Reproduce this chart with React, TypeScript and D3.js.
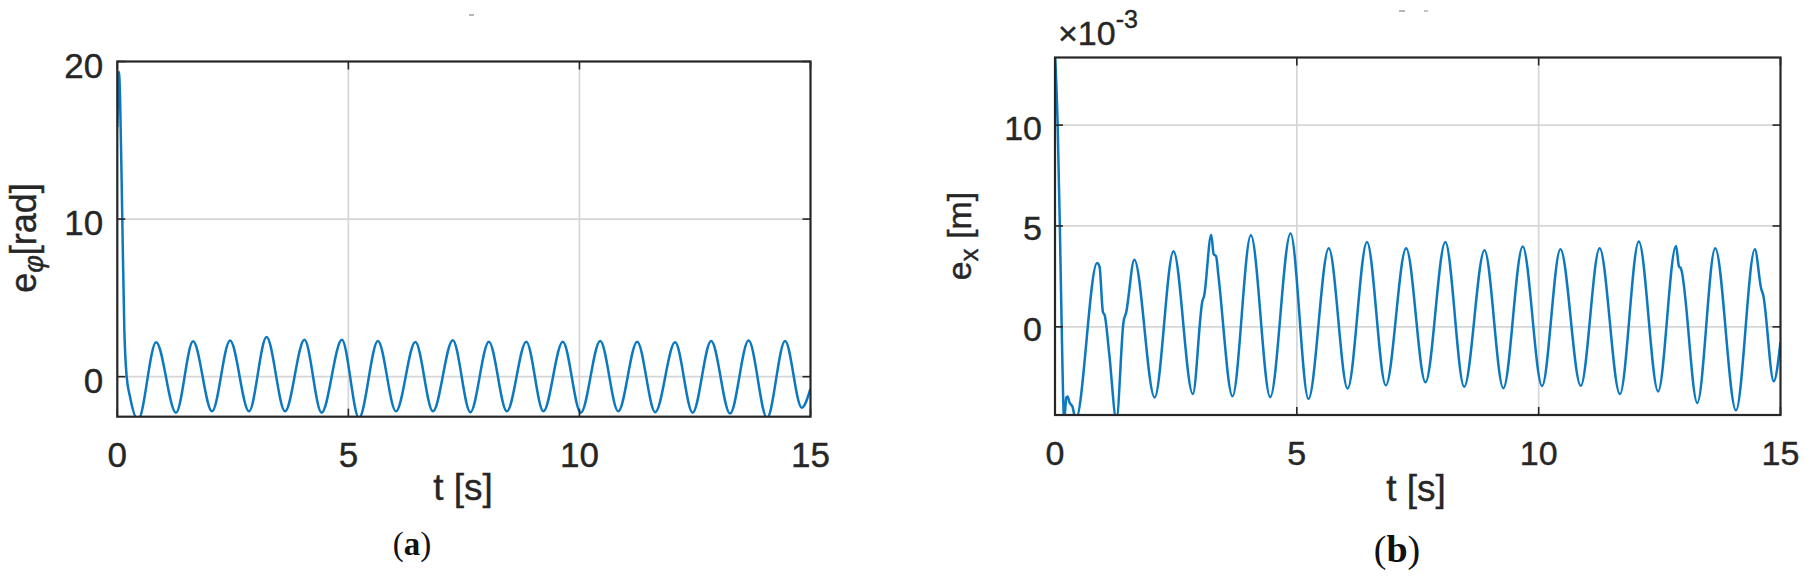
import React from "react";
import * as d3 from "d3";

// ---------- data ----------
const xTicks = [0, 5, 10, 15];
const yTicksA = [0, 10, 20];
const yTicksB = [0, 5, 10];

// panel (a): e_phi [rad]
const tA = [
  0, 0.036, 0.06, 0.108, 0.152, 0.203, 0.275, 0.45,
  0.84, 1.27, 1.64, 2.05, 2.44, 2.85, 3.23, 3.63, 4.05, 4.42, 4.86, 5.23,
  5.64, 6.03, 6.45, 6.83, 7.26, 7.64, 8.04, 8.43, 8.85, 9.22, 9.64, 10.03,
  10.45, 10.84, 11.25, 11.64, 12.07, 12.45, 12.85, 13.26, 13.66, 14.06,
  14.45, 14.81, 15,
];
const eA = [
  15.85, 19.35, 17.7, 10, 3, 0, -1.27, -2.75,
  2.18, -2.29, 2.25, -2.2, 2.29, -2.2, 2.52, -2.2, 2.34, -2.29, 2.34, -2.62,
  2.27, -2.2, 2.2, -2.2, 2.31, -2.25, 2.22, -2.2, 2.22, -2.2, 2.22, -2.29,
  2.27, -2.2, 2.22, -2.25, 2.18, -2.29, 2.27, -2.34, 2.29, -2.62,
  2.27, -1.97, -0.76,
];

// panel (b): e_x [m] (x 1e-3)
const tB = [
  0, 0.055, 0.1, 0.138, 0.19, 0.235, 0.26, 0.3, 0.36, 0.43,
  0.87, 0.92, 0.99, 1.03, 1.12, 1.27,
  1.42, 1.47, 1.64, 2.06, 2.45, 2.85, 3.05, 3.08, 3.23, 3.28, 3.33, 3.38, 3.67,
  4.05, 4.45, 4.87, 5.24, 5.66, 6.05, 6.45, 6.84, 7.26, 7.66, 8.07, 8.46,
  8.88, 9.27, 9.67, 10.07, 10.45, 10.87, 11.26, 11.68, 12.07, 12.47,
  12.84, 12.9, 12.94, 13.28, 13.65, 14.08, 14.47, 14.6, 14.64, 14.86, 15,
];
const eB = [
  13.6, 10, 5, 0, -4.6, -3.5, -3.45, -3.75, -3.95, -4.6,
  3.17, 3.0, 0.75, 0.55, -1.3, -4.6,
  0.3, 0.7, 3.33, -3.5, 3.75, -3.33, 1.3, 1.5, 4.57, 3.6, 3.5, 2.5, -3.44,
  4.54, -3.48, 4.63, -3.57, 3.9, -3.06, 4.2, -2.9, 3.9, -2.75, 4.2, -2.97,
  3.79, -3.04, 3.98, -2.93, 3.85, -2.92, 3.89, -3.33, 4.23, -3.2,
  4.01, 3.0, 2.9, -3.77, 3.9, -4.14, 3.84, 1.9, 1.6, -2.7, -0.75,
];

// ---------- styling ----------
const FONT = "'Liberation Sans', Arial, Helvetica, sans-serif";
const SERIF = "'Liberation Serif', 'Times New Roman', serif";
const INK = "#262626";
const GRID = "#d6d6d6";
const LINE = "#0B78C0";
const TICK = 8;
const TEXT_STROKE = { stroke: INK, strokeWidth: 0.4 };

type PanelProps = {
  id: string;
  left: number;
  right: number;
  top: number;
  bottom: number;
  yDomain: [number, number];
  yTicks: number[];
  t: number[];
  v: number[];
  tickFs: number;
  xTickBaseline: number;
  yTickDy: number;
  yTickGap: number;
};

function Panel(p: PanelProps) {
  const x = d3.scaleLinear().domain([0, 15]).range([p.left, p.right]);
  const y = d3.scaleLinear().domain(p.yDomain).range([p.bottom, p.top]);
  const pts = p.t.map((tt, i) => [tt, p.v[i]] as [number, number]);
  const path =
    d3
      .line<[number, number]>()
      .x((d) => x(d[0]))
      .y((d) => y(d[1]))
      .curve(d3.curveMonotoneX)(pts) || "";
  return (
    <g>
      <defs>
        <clipPath id={p.id}>
          <rect x={p.left} y={p.top} width={p.right - p.left} height={p.bottom - p.top} />
        </clipPath>
      </defs>
      {/* grid */}
      {xTicks
        .filter((d) => d > 0 && d < 15)
        .map((d) => (
          <line key={"gx" + d} x1={x(d)} x2={x(d)} y1={p.top} y2={p.bottom} stroke={GRID} strokeWidth={1.7} />
        ))}
      {p.yTicks
        .filter((d) => y(d) > p.top + 1 && y(d) < p.bottom - 1)
        .map((d) => (
          <line key={"gy" + d} x1={p.left} x2={p.right} y1={y(d)} y2={y(d)} stroke={GRID} strokeWidth={1.7} />
        ))}
      {/* data */}
      <path d={path} fill="none" stroke={LINE} strokeWidth={2.5} clipPath={`url(#${p.id})`} strokeLinejoin="round" />
      {/* ticks */}
      {xTicks.map((d) => (
        <g key={"tx" + d}>
          <line x1={x(d)} x2={x(d)} y1={p.bottom} y2={p.bottom - TICK} stroke={INK} strokeWidth={1.6} />
          <line x1={x(d)} x2={x(d)} y1={p.top} y2={p.top + TICK} stroke={INK} strokeWidth={1.6} />
        </g>
      ))}
      {p.yTicks.map((d) => (
        <g key={"ty" + d}>
          <line x1={p.left} x2={p.left + TICK} y1={y(d)} y2={y(d)} stroke={INK} strokeWidth={1.6} />
          <line x1={p.right} x2={p.right - TICK} y1={y(d)} y2={y(d)} stroke={INK} strokeWidth={1.6} />
        </g>
      ))}
      {/* frame */}
      <rect x={p.left} y={p.top} width={p.right - p.left} height={p.bottom - p.top} fill="none" stroke={INK} strokeWidth={2.2} />
      {/* tick labels */}
      {xTicks.map((d) => (
        <text key={"lx" + d} x={x(d)} y={p.xTickBaseline} textAnchor="middle" fontSize={p.tickFs} fontFamily={FONT} fill={INK} {...TEXT_STROKE}>
          {d}
        </text>
      ))}
      {p.yTicks.map((d) => (
        <text key={"ly" + d} x={p.left - p.yTickGap} y={y(d) + p.yTickDy} textAnchor="end" fontSize={p.tickFs} fontFamily={FONT} fill={INK} {...TEXT_STROKE}>
          {d}
        </text>
      ))}
    </g>
  );
}

export default function App() {
  return (
    <svg
      width={1813}
      height={576}
      viewBox="0 0 1813 576"
      style={{ position: "absolute", left: 0, top: 0, background: "#fff" }}
    >
      <rect x={0} y={0} width={1813} height={576} fill="#fff" />
      {/* faint residual marks at the top */}
      <rect x={469} y={14} width={5} height={2} fill="#b5b5b5" />
      <rect x={1399} y={10} width={6} height={2} fill="#b5b5b5" />
      <rect x={1424} y={10} width={4} height={2} fill="#c5c5c5" />

      <Panel
        id="clipA"
        left={117.3}
        right={810.5}
        top={61.5}
        bottom={416.7}
        yDomain={[-2.54, 20]}
        yTicks={yTicksA}
        t={tA}
        v={eA}
        tickFs={35}
        xTickBaseline={467}
        yTickDy={16}
        yTickGap={14}
      />
      <Panel
        id="clipB"
        left={1055}
        right={1780.5}
        top={57.5}
        bottom={415}
        yDomain={[-4.37, 13.35]}
        yTicks={yTicksB}
        t={tB}
        v={eB}
        tickFs={34}
        xTickBaseline={465}
        yTickDy={14.5}
        yTickGap={13}
      />

      {/* axis labels (a) */}
      <text x={463} y={500} textAnchor="middle" fontSize={37} fontFamily={FONT} fill={INK} {...TEXT_STROKE}>
        t [s]
      </text>
      <text transform="translate(36,238) rotate(-90)" textAnchor="middle" fontFamily={FONT} fill={INK} fontSize={36} {...TEXT_STROKE}>
        <tspan>e</tspan>
        <tspan fontSize={27} fontStyle="italic" dy={7}>φ</tspan>
        <tspan dy={-7}>[rad]</tspan>
      </text>

      {/* axis labels (b) */}
      <text x={1416} y={501} textAnchor="middle" fontSize={37} fontFamily={FONT} fill={INK} {...TEXT_STROKE}>
        t [s]
      </text>
      <text transform="translate(971,236) rotate(-90)" textAnchor="middle" fontFamily={FONT} fill={INK} fontSize={34} {...TEXT_STROKE}>
        <tspan>e</tspan>
        <tspan fontSize={26} dy={7}>x</tspan>
        <tspan dy={-7}> [m]</tspan>
      </text>
      <text x={1058} y={45} fontFamily={FONT} fill={INK} fontSize={34} {...TEXT_STROKE}>
        <tspan>×10</tspan>
        <tspan fontSize={25} dy={-17}>-3</tspan>
      </text>

      {/* captions */}
      <text x={412} y={555} textAnchor="middle" fontFamily={SERIF} fontSize={33} fill="#111">
        (<tspan fontWeight="bold">a</tspan>)
      </text>
      <text x={1397} y={562} textAnchor="middle" fontFamily={SERIF} fontSize={38} fill="#111">
        (<tspan fontWeight="bold">b</tspan>)
      </text>
    </svg>
  );
}
